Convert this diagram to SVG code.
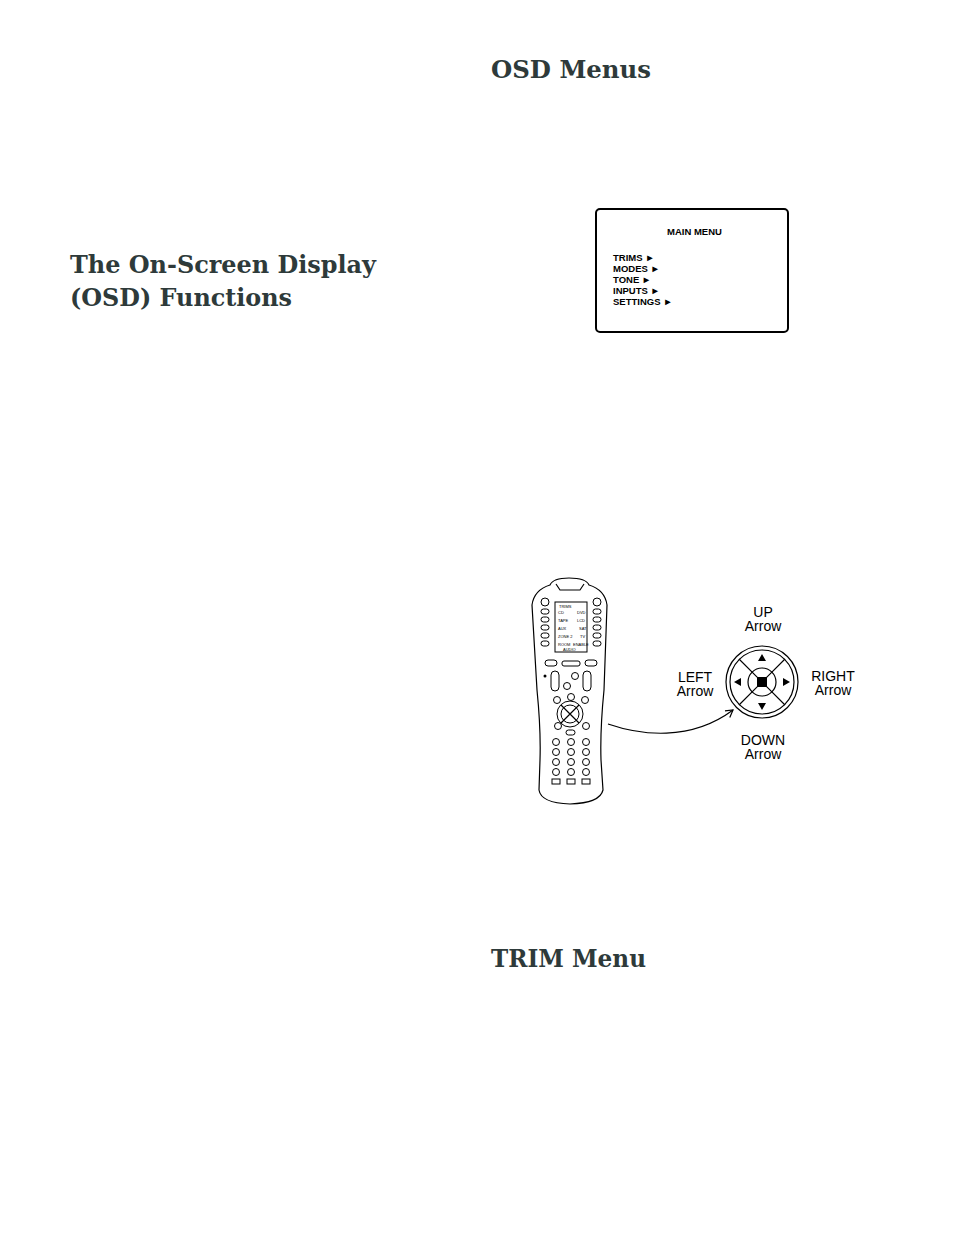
<svg xmlns="http://www.w3.org/2000/svg" width="954" height="1235" viewBox="0 0 954 1235">
<style>
.h{font-family:"DejaVu Serif","Liberation Serif",serif;font-weight:bold;font-size:25px;fill:#2e3a3a}
.m{font-family:"Liberation Sans",Arial,sans-serif;font-weight:bold;font-size:9.5px;fill:#000}
.l{font-family:"Liberation Sans",Arial,sans-serif;font-size:14px;fill:#000;text-anchor:middle}
.s{fill:none;stroke:#000;stroke-width:1.2}
.b{fill:#fff;stroke:#000;stroke-width:1}
</style>
<defs>
<marker id="ah" markerWidth="10" markerHeight="10" refX="8" refY="5" orient="auto" markerUnits="userSpaceOnUse"><path d="M1,1 L8,5 L1,9" fill="none" stroke="#000" stroke-width="1.2"/></marker>
</defs>
<rect width="954" height="1235" fill="#fff"/>
<text class="h" x="491" y="78" textLength="160" lengthAdjust="spacingAndGlyphs">OSD Menus</text>
<text class="h" x="70" y="273" textLength="306" lengthAdjust="spacingAndGlyphs">The On-Screen Display</text>
<text class="h" x="70" y="306" textLength="222" lengthAdjust="spacingAndGlyphs">(OSD) Functions</text>
<text class="h" x="491" y="967" textLength="155" lengthAdjust="spacingAndGlyphs">TRIM Menu</text>
<g id="osd-main-menu">
<rect x="596" y="209" width="192" height="123" rx="4" fill="#fff" stroke="#000" stroke-width="2"/>
<text class="m" x="667" y="235">MAIN MENU</text>
<text class="m" x="613" y="261">TRIMS ►</text>
<text class="m" x="613" y="272">MODES ►</text>
<text class="m" x="613" y="283">TONE ►</text>
<text class="m" x="613" y="294">INPUTS ►</text>
<text class="m" x="613" y="305">SETTINGS ►</text>
</g>
<g id="remote">
<path class="s" d="M550,585 Q553,578 569,578 Q586,578 589,585 Q605,590 607,605 L604,690 Q600,730 601,760 L603,790 Q600,803 570,804 Q541,803 539,790 L540,760 Q541,730 537,690 L532,605 Q534,590 550,585 Z"/>
<path class="s" d="M556,584 L560,590 L580,590 L584,584"/>
<rect class="b" x="555" y="602" width="32" height="50"/>
<g font-family="Liberation Sans,sans-serif" font-size="4" fill="#000"><text x="559" y="608">TRIMS</text><text x="558" y="614">CD</text><text x="577" y="614">DVD</text><text x="558" y="622">TAPE</text><text x="577" y="622">LCD</text><text x="558" y="630">AUX</text><text x="579" y="630">SAT</text><text x="558" y="638">ZONE 2</text><text x="580" y="638">TV</text><text x="558" y="646">ROOM</text><text x="573" y="646">ENABLE</text><text x="563" y="651">AUDIO</text></g>
<circle class="b" cx="545" cy="602" r="4"/><circle class="b" cx="597" cy="602" r="4"/>
<g class="b"><rect x="541" y="609" width="8" height="5" rx="2.5"/><rect x="541" y="617" width="8" height="5" rx="2.5"/><rect x="541" y="625" width="8" height="5" rx="2.5"/><rect x="541" y="633" width="8" height="5" rx="2.5"/><rect x="541" y="641" width="8" height="5" rx="2.5"/>
<rect x="593" y="609" width="8" height="5" rx="2.5"/><rect x="593" y="617" width="8" height="5" rx="2.5"/><rect x="593" y="625" width="8" height="5" rx="2.5"/><rect x="593" y="633" width="8" height="5" rx="2.5"/><rect x="593" y="641" width="8" height="5" rx="2.5"/>
<rect x="545" y="660" width="12" height="6" rx="3"/><rect x="562" y="661" width="18" height="5" rx="2"/><rect x="585" y="660" width="12" height="6" rx="3"/>
<rect x="551" y="671" width="8" height="20" rx="4"/><rect x="583" y="671" width="8" height="20" rx="4"/>
<circle cx="575" cy="676" r="3.5"/><circle cx="567" cy="686" r="3.5"/>
<circle cx="557" cy="700" r="3.5"/><circle cx="571" cy="697" r="3.5"/><circle cx="585" cy="700" r="3.5"/>
<circle cx="570" cy="714" r="13"/><circle cx="570" cy="714" r="9"/>
<circle cx="558" cy="726" r="3.5"/><circle cx="586" cy="726" r="3.5"/><rect x="566" y="730" width="9" height="5" rx="2.5"/>
<circle cx="556" cy="742" r="3.5"/><circle cx="571" cy="742" r="3.5"/><circle cx="586" cy="742" r="3.5"/>
<circle cx="556" cy="752" r="3.5"/><circle cx="571" cy="752" r="3.5"/><circle cx="586" cy="752" r="3.5"/>
<circle cx="556" cy="762" r="3.5"/><circle cx="571" cy="762" r="3.5"/><circle cx="586" cy="762" r="3.5"/>
<circle cx="556" cy="772" r="3.5"/><circle cx="571" cy="772" r="3.5"/><circle cx="586" cy="772" r="3.5"/>
<rect x="552" y="779" width="8" height="5"/><rect x="567" y="779" width="8" height="5"/><rect x="582" y="779" width="8" height="5"/></g>
<path d="M561,705 L579,723 M579,705 L561,723" class="s" stroke-width="0.8"/>
<circle cx="545" cy="676" r="1.5" fill="#000"/>
</g>
<g id="direction-pad">
<circle class="s" cx="762" cy="682" r="36"/>
<circle class="s" cx="762" cy="682" r="32"/>
<circle class="s" cx="762" cy="682" r="14"/>
<path class="s" d="M739,659 L785,705 M785,659 L739,705" stroke-width="0.9"/>
<rect x="757" y="677" width="10" height="10" fill="#000"/>
<path d="M762,654 L766,661 L758,661 Z M762,710 L766,703 L758,703 Z M734,682 L741,678 L741,686 Z M790,682 L783,678 L783,686 Z" fill="#000"/>
</g>
<g id="labels">
<text class="l" x="763" y="617">UP</text><text class="l" x="763" y="631">Arrow</text>
<text class="l" x="695" y="682">LEFT</text><text class="l" x="695" y="696">Arrow</text>
<text class="l" x="833" y="681">RIGHT</text><text class="l" x="833" y="695">Arrow</text>
<text class="l" x="763" y="745">DOWN</text><text class="l" x="763" y="759">Arrow</text>
</g>
<g id="connectors">
<path class="s" d="M608,724 C640,735 690,742 733,710" marker-end="url(#ah)"/>
</g>
</svg>
